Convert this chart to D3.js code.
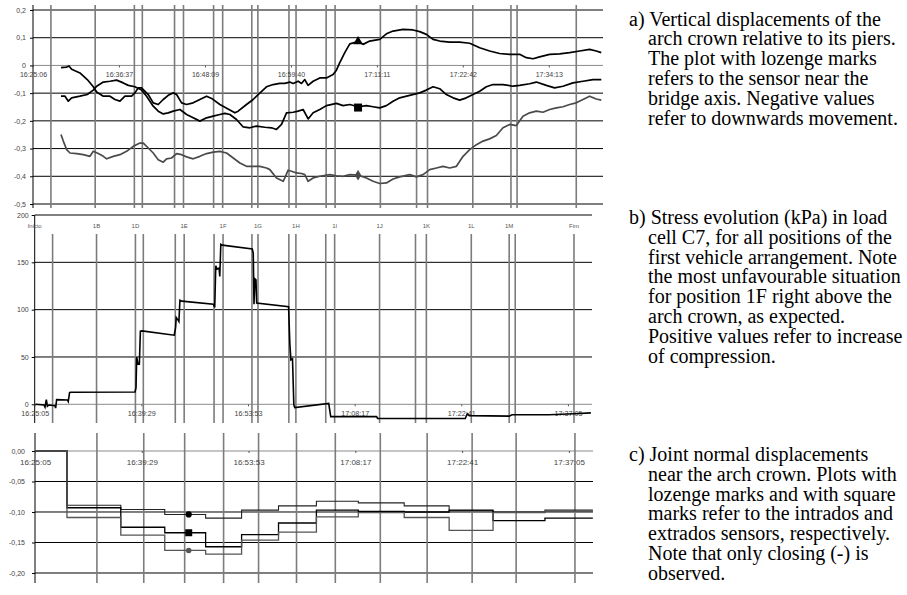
<!DOCTYPE html>
<html>
<head>
<meta charset="utf-8">
<script src="https://cdn.jsdelivr.net/npm/d3@7"></script>
<style>
  body { margin: 0; background: #fff; }
  svg { display: block; }
  .caption { font-family: "Liberation Serif", "Times New Roman", serif; font-size: 20px; fill: #000; }
</style>
</head>
<body>
<div id="chart"></div>
<script>
// ---- a) vertical displacements (minutes after 16:25:06)
const aStart = "16:25:06";
const aEnd = "17:41:29";
const aTicks = ["16:25:06", "16:36:37", "16:48:09", "16:59:40", "17:11:11", "17:22:42", "17:34:13"];
const aYTicks = [0.2, 0.1, 0, -0.1, -0.2, -0.3, -0.4, -0.5];

const aTime1 = [3.75, 4.51, 4.82, 5.18, 6.29, 7.27, 8.08, 8.53, 9.42, 10.31, 10.98, 11.65, 12.32, 13.21, 13.66, 14.10, 14.55, 15.44, 16.11, 16.78, 17.45, 18.12, 18.79, 19.24, 19.91, 20.58, 21.46, 22.36, 23.26, 23.93, 25.04, 26.38, 27.05, 27.49, 28.61, 29.50, 30.17, 31.29, 32.18, 33.07, 33.74, 34.41, 34.86, 35.53, 35.98, 36.42, 36.86, 37.54, 38.43, 39.32, 40.21, 40.66, 41.11, 41.78, 42.45, 43.56, 44.23, 45.12, 46.46, 47.36, 48.25, 49.59, 50.93, 51.82, 52.71, 53.61, 54.50, 55.84, 57.18, 58.52, 59.86, 61.19, 62.53, 63.87, 65.21, 66.11, 67.00, 67.89, 69.23, 70.57, 71.91, 73.25, 74.59, 75.48, 76.15];
const aVal1 = [-0.008, -0.006, -0.002, -0.014, -0.027, -0.051, -0.077, -0.096, -0.111, -0.111, -0.123, -0.129, -0.111, -0.111, -0.099, -0.081, -0.081, -0.105, -0.135, -0.141, -0.123, -0.108, -0.099, -0.105, -0.135, -0.141, -0.135, -0.123, -0.111, -0.119, -0.141, -0.161, -0.171, -0.165, -0.141, -0.123, -0.105, -0.077, -0.069, -0.065, -0.065, -0.060, -0.065, -0.057, -0.065, -0.051, -0.072, -0.057, -0.045, -0.045, -0.033, -0.017, 0.010, 0.046, 0.078, 0.086, 0.076, 0.088, 0.094, 0.114, 0.124, 0.130, 0.128, 0.122, 0.112, 0.094, 0.088, 0.084, 0.084, 0.080, 0.064, 0.052, 0.043, 0.040, 0.040, 0.028, 0.024, 0.031, 0.040, 0.042, 0.046, 0.052, 0.058, 0.052, 0.046];

const aTime2 = [3.75, 4.29, 4.73, 5.18, 6.29, 7.27, 8.08, 8.53, 9.42, 10.31, 11.20, 12.10, 12.77, 13.66, 14.55, 15.22, 16.11, 16.78, 17.45, 18.12, 18.79, 19.69, 20.58, 21.47, 22.36, 23.26, 24.15, 25.04, 25.71, 26.38, 27.27, 28.17, 29.06, 29.95, 31.07, 31.96, 32.63, 33.30, 33.97, 34.86, 35.53, 36.20, 36.87, 37.54, 38.43, 39.32, 40.66, 41.55, 42.45, 43.56, 44.68, 45.57, 46.46, 47.36, 48.25, 49.14, 50.48, 51.82, 52.71, 53.61, 54.50, 55.39, 56.29, 57.18, 58.07, 58.97, 59.86, 60.75, 61.64, 62.98, 64.32, 65.21, 66.55, 67.45, 68.79, 69.90, 71.02, 72.36, 73.70, 75.04, 76.15];
const aVal2 = [-0.111, -0.111, -0.129, -0.117, -0.111, -0.105, -0.089, -0.075, -0.060, -0.057, -0.053, -0.063, -0.072, -0.077, -0.089, -0.111, -0.147, -0.165, -0.175, -0.171, -0.165, -0.159, -0.177, -0.189, -0.201, -0.189, -0.183, -0.177, -0.173, -0.177, -0.195, -0.222, -0.225, -0.219, -0.223, -0.225, -0.231, -0.213, -0.171, -0.169, -0.165, -0.159, -0.193, -0.171, -0.159, -0.145, -0.137, -0.145, -0.141, -0.149, -0.145, -0.149, -0.153, -0.145, -0.129, -0.117, -0.108, -0.099, -0.089, -0.077, -0.084, -0.105, -0.117, -0.125, -0.117, -0.105, -0.093, -0.077, -0.069, -0.069, -0.075, -0.072, -0.066, -0.060, -0.072, -0.081, -0.075, -0.063, -0.057, -0.051, -0.051];

const aTime3 = [3.75, 4.06, 4.51, 4.96, 5.85, 6.74, 7.63, 8.08, 8.75, 9.42, 9.87, 10.76, 11.65, 12.54, 13.44, 14.33, 14.78, 15.44, 16.11, 16.78, 17.45, 17.90, 18.57, 19.24, 19.91, 20.58, 21.47, 22.36, 23.26, 24.15, 25.04, 25.94, 26.83, 27.72, 28.61, 29.51, 30.40, 31.29, 31.74, 32.63, 33.52, 33.75, 34.19, 34.64, 35.31, 35.98, 36.42, 36.87, 37.54, 38.43, 39.77, 40.66, 41.55, 42.45, 43.56, 44.68, 45.57, 46.46, 47.36, 48.25, 49.14, 50.48, 51.37, 52.27, 53.16, 54.06, 54.95, 55.84, 56.74, 57.63, 58.52, 59.42, 60.31, 61.19, 62.09, 62.98, 63.87, 64.77, 65.66, 66.55, 67.45, 68.34, 69.23, 70.13, 71.02, 71.91, 72.80, 73.70, 74.59, 75.48, 76.15];
const aVal3 = [-0.249, -0.273, -0.304, -0.316, -0.318, -0.322, -0.328, -0.310, -0.318, -0.328, -0.337, -0.328, -0.322, -0.310, -0.292, -0.280, -0.280, -0.298, -0.316, -0.340, -0.349, -0.337, -0.334, -0.318, -0.322, -0.330, -0.337, -0.328, -0.318, -0.313, -0.310, -0.316, -0.334, -0.352, -0.364, -0.364, -0.364, -0.370, -0.376, -0.406, -0.418, -0.406, -0.378, -0.382, -0.388, -0.390, -0.394, -0.418, -0.406, -0.400, -0.394, -0.398, -0.400, -0.394, -0.396, -0.406, -0.418, -0.426, -0.424, -0.410, -0.402, -0.394, -0.402, -0.394, -0.376, -0.370, -0.364, -0.370, -0.364, -0.328, -0.304, -0.286, -0.273, -0.265, -0.253, -0.225, -0.213, -0.217, -0.183, -0.171, -0.165, -0.169, -0.159, -0.153, -0.149, -0.141, -0.135, -0.123, -0.111, -0.121, -0.125];
const aMarkAt = 43.56;

// ---- b) stress in load cell C7 (minutes after 16:25:05)
const bStart = "16:25:05";
const bEnd = "17:40:20";
const bTicks = ["16:25:05", "16:39:29", "16:53:53", "17:08:17", "17:22:41", "17:37:05"];
const bYTicks = [200, 150, 100, 50, 0];
const bTime = [0.09, 1.25, 1.39, 1.57, 1.71, 1.93, 2.74, 2.83, 2.96, 4.40, 4.53, 4.71, 4.84, 13.55, 13.68, 13.77, 13.95, 14.13, 14.27, 14.49, 18.84, 19.02, 19.11, 19.34, 19.47, 19.61, 19.88, 24.13, 24.31, 24.45, 24.63, 24.90, 24.99, 25.13, 25.34, 29.38, 29.51, 29.61, 29.74, 29.88, 29.97, 34.28, 34.45, 34.59, 34.81, 34.99, 35.12, 39.70, 39.97, 46.16, 46.30, 58.14, 58.41, 58.68, 64.06, 64.46, 69.44, 72.81, 75.10];
const bVal = [0, -0.7, -3, 5, -2, -0.7, -1.4, -4, 5, 4.6, 2.8, 12.3, 12.7, 13, 17.6, 50, 42.3, 42.3, 77.2, 77.6, 73, 81, 91.7, 89.2, 87.5, 110, 109, 105.8, 102.3, 146.4, 142.8, 143.9, 135, 169, 168.2, 164, 159.8, 105.8, 132.6, 131.6, 106.9, 103, 64.5, 46.9, 48, -0.7, -3.5, 1, -13, -13, -15, -15, -10, -12, -12.5, -11, -11, -10, -9];

const positions = ["Inicio", "1B", "1D", "1E", "1F", "1G", "1H", "1I", "1J", "1K", "1L", "1M", "Fim"];
const positionTimes = ["16:25:05", "16:33:26", "16:38:41", "16:45:16", "16:50:31", "16:55:14", "17:00:21", "17:05:35", "17:11:39", "17:17:58", "17:24:02", "17:29:09", "17:37:54"];
const eventTimes = ["16:27:30", "16:33:26", "16:38:41", "16:39:45", "16:44:04", "16:45:16", "16:49:18", "16:50:31", "16:54:25", "16:55:14", "16:59:24", "17:00:21", "17:04:23", "17:05:35", "17:11:39", "17:16:30", "17:17:58", "17:24:02", "17:29:09", "17:29:58", "17:37:54"];

// ---- c) joint normal displacements (step series, minutes after 16:25:05)
const cYTicks = [0, -0.05, -0.10, -0.15, -0.20];
const cEventTimes = ["16:33:26", "16:39:45", "16:45:16", "16:50:31", "16:55:14", "17:00:21", "17:05:35", "17:11:39", "17:17:58", "17:24:02", "17:29:58", "17:37:54"];
const cTime = [0, 4.31, 11.57, 17.50, 23.01, 27.86, 32.84, 37.95, 43.60, 49.79, 55.85, 61.77, 68.77, 75.23];
const cVal1 = [0, -0.089, -0.096, -0.104, -0.110, -0.097, -0.090, -0.0825, -0.085, -0.090, -0.098, -0.100, -0.097, -0.097];
const cVal2 = [0, -0.093, -0.125, -0.134, -0.157, -0.137, -0.118, -0.097, -0.099, -0.100, -0.097, -0.114, -0.110, -0.110];
const cVal3 = [0, -0.109, -0.138, -0.163, -0.169, -0.146, -0.133, -0.108, -0.101, -0.109, -0.130, -0.101, -0.099, -0.099];
const cMarkAt = 20.73;

const captionA = ["a) Vertical displacements of the", "arch crown relative to its piers.", "The plot with lozenge marks", "refers to the sensor near the", "bridge axis. Negative values", "refer to downwards movement."];
const captionB = ["b) Stress evolution (kPa) in load", "cell C7, for all positions of the", "first vehicle arrangement. Note", "the most unfavourable situation", "for position 1F right above the", "arch crown, as expected.", "Positive values refer to increase", "of compression."];
const captionC = ["c) Joint normal displacements", "near the arch crown. Plots with", "lozenge marks and with square", "marks refer to the intrados and", "extrados sensors, respectively.", "Note that only closing (-) is", "observed."];

const parseTime = d3.timeParse("%H:%M:%S");
const fmtTime = d3.timeFormat("%H:%M:%S");
const addMin = (base, m) => new Date(parseTime(base).getTime() + m * 60000);
const comma = (f) => (d) => (d === 0 && f === ".1f" ? "0" : d3.format(f)(d).replace(".", ",").replace("\u2212", "-"));

const svg = d3.select("#chart").append("svg").attr("width", 907).attr("height", 595);
svg.append("rect").attr("width", 907).attr("height", 595).attr("fill", "#fff");

const eventColor = "#7c7c7c";
const labelFont = '"Liberation Sans", Arial, sans-serif';

function gridAndAxes(x, y, yTicks, yFmt, ticks, lineTop, lineBottom, events, yPad, xPad, xSize, ySize) {
  const [x0, x1] = x.range();
  // horizontal grid
  svg.append("g").selectAll("line").data(yTicks).enter().append("line")
    .attr("x1", x0).attr("x2", x1)
    .attr("y1", (d) => y(d)).attr("y2", (d) => y(d))
    .attr("stroke", (d) => (d === 0 ? "#8a8a8a" : "#000"))
    .attr("stroke-width", 1);
  // event lines
  svg.append("g").selectAll("line").data(events).enter().append("line")
    .attr("x1", (d) => x(parseTime(d))).attr("x2", (d) => x(parseTime(d)))
    .attr("y1", lineTop).attr("y2", lineBottom)
    .attr("stroke", eventColor).attr("stroke-width", 1.6);
  // y axis
  svg.append("line").attr("x1", x0).attr("x2", x0).attr("y1", lineTop).attr("y2", lineBottom)
    .attr("stroke", "#000").attr("stroke-width", 1);
  const ya = svg.append("g").attr("transform", "translate(" + x0 + ",0)")
    .call(d3.axisLeft(y).tickValues(yTicks).tickFormat(yFmt).tickSize(3).tickPadding(yPad));
  ya.attr("font-family", labelFont).attr("font-size", ySize);
  ya.select(".domain").remove();
  ya.selectAll("line").attr("stroke", "#000");
  ya.selectAll("text").attr("fill", "#444");
  // time axis along zero
  const xa = svg.append("g").attr("transform", "translate(0," + y(0) + ")")
    .call(d3.axisBottom(x).tickValues(ticks.map(parseTime)).tickFormat(fmtTime).tickSize(2).tickPadding(xPad));
  xa.attr("font-family", labelFont).attr("font-size", xSize);
  xa.select(".domain").remove();
  xa.selectAll("line").attr("stroke", "#555");
  xa.selectAll("text").attr("fill", "#444");
}

// ---------- panel a
const xA = d3.scaleTime().domain([parseTime(aStart), parseTime(aEnd)]).range([33, 603]);
const yA = d3.scaleLinear().domain([-0.5, 0.2]).range([204, 10]);
gridAndAxes(xA, yA, aYTicks, comma(".1f"), aTicks, 5, 208, eventTimes, 4, 5, 7, 7);

const lineA = d3.line().x((d) => xA(addMin(aStart, d[0]))).y((d) => yA(d[1]));
[[aTime1, aVal1, "#000"], [aTime2, aVal2, "#000"], [aTime3, aVal3, "#4a4a4a"]].forEach(function (s) {
  svg.append("path")
    .datum(s[0].map((t, i) => [t, s[1][i]]))
    .attr("fill", "none").attr("stroke", s[2]).attr("stroke-width", 1.7)
    .attr("stroke-linejoin", "round")
    .attr("d", lineA);
});
const aMarks = [
  [aVal1[aTime1.indexOf(aMarkAt)], d3.symbolTriangle, 40, "#000"],
  [-0.152, d3.symbolSquare, 64, "#000"],
  [aVal3[aTime3.indexOf(aMarkAt)], d3.symbolDiamond, 34, "#4a4a4a"]
];
svg.append("g").selectAll("path").data(aMarks).enter().append("path")
  .attr("transform", (d) => "translate(" + xA(addMin(aStart, aMarkAt)) + "," + yA(d[0]) + ")")
  .attr("d", (d) => d3.symbol(d[1], d[2])())
  .attr("fill", (d) => d[3]);

// ---------- panel b
const xB = d3.scaleTime().domain([parseTime(bStart), parseTime(bEnd)]).range([34.7, 592]);
const yB = d3.scaleLinear().domain([-17, 200]).range([420.4, 215]);
gridAndAxes(xB, yB, bYTicks, (d) => String(d), bTicks, 234, 423, eventTimes, 3, 5, 7.2, 7);
svg.append("line").attr("x1", 34.7).attr("x2", 34.7).attr("y1", 215).attr("y2", 234).attr("stroke", "#000");

svg.append("g").selectAll("text").data(positions).enter().append("text")
  .attr("x", (d, i) => xB(parseTime(positionTimes[i])))
  .attr("y", 228)
  .attr("text-anchor", "middle")
  .attr("font-family", labelFont).attr("font-size", 6).attr("fill", "#555")
  .text((d) => d);

const lineB = d3.line().x((d) => xB(addMin(bStart, d[0]))).y((d) => yB(d[1]));
svg.append("path")
  .datum(bTime.map((t, i) => [t, bVal[i]]))
  .attr("fill", "none").attr("stroke", "#000").attr("stroke-width", 1.6)
  .attr("d", lineB);

// ---------- panel c
const xC = d3.scaleTime().domain([parseTime(bStart), parseTime(bEnd)]).range([35, 593]);
const yC = d3.scaleLinear().domain([-0.2164, 0.0295]).range([583, 433]);
gridAndAxes(xC, yC, cYTicks, comma(".2f"), bTicks, 433, 583, cEventTimes, 7, 6, 8, 7);

const lineC = d3.line().curve(d3.curveStepAfter).x((d) => xC(addMin(bStart, d[0]))).y((d) => yC(d[1]));
[[cVal1, "#222", 1.1], [cVal2, "#000", 1.3], [cVal3, "#555", 1.3]].forEach(function (s) {
  svg.append("path")
    .datum(cTime.map((t, i) => [t, s[0][i]]))
    .attr("fill", "none").attr("stroke", s[1]).attr("stroke-width", s[2])
    .attr("d", lineC);
});
const cMarks = [
  [cVal1[3], d3.symbolCircle, 30, "#000"],
  [cVal2[3], d3.symbolSquare, 49, "#000"],
  [cVal3[3], d3.symbolCircle, 24, "#555"]
];
svg.append("g").selectAll("path").data(cMarks).enter().append("path")
  .attr("transform", (d) => "translate(" + xC(addMin(bStart, cMarkAt)) + "," + yC(d[0]) + ")")
  .attr("d", (d) => d3.symbol(d[1], d[2])())
  .attr("fill", (d) => d[3]);

// ---------- captions
function caption(lines, firstBaseline) {
  svg.append("g").selectAll("text").data(lines).enter().append("text")
    .attr("class", "caption")
    .attr("x", (d, i) => (i === 0 ? 629 : 648))
    .attr("y", (d, i) => firstBaseline + i * 19.8)
    .text((d) => d);
}
caption(captionA, 25.5);
caption(captionB, 224);
caption(captionC, 461);
</script>
</body>
</html>
